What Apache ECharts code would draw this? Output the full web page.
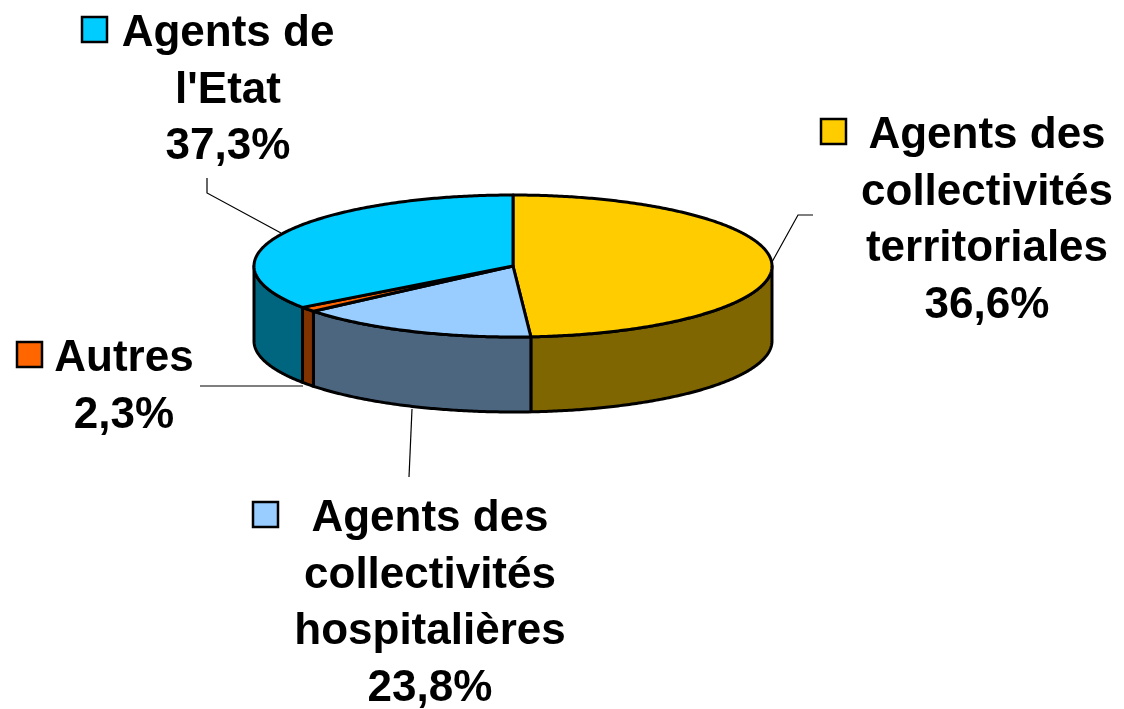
<!DOCTYPE html>
<html>
<head>
<meta charset="utf-8">
<script src="https://cdn.jsdelivr.net/npm/echarts@6/dist/echarts.min.js"></script>
<style>
html, body { margin: 0; padding: 0; background: #fff; }
#chart { width: 1124px; height: 709px; }
</style>
</head>
<body>
<div id="chart"></div>
<script>
// catégories, dans l'ordre horaire depuis midi
const categories = ['Agents des collectivités territoriales', 'Agents des collectivités hospitalières', 'Autres', "Agents de l'Etat"]
const labelLines = [
  ['Agents des', 'collectivités', 'territoriales'],
  ['Agents des', 'collectivités', 'hospitalières'],
  ['Autres'],
  ['Agents de', "l'Etat"]
]
const percents = [36.6, 23.8, 2.3, 37.3] // valeurs affichées
const sliceShare = [48.9, 15.1, 1.1, 34.9] // taille des secteurs telle que dessinée

// couleurs (dessus / flanc)
const topColors = ['#FFCC00', '#99CCFF', '#FF6600', '#00CCFF']
const sideColors = ['#7F6600', '#4D6680', '#803300', '#00667F']

// géométrie du camembert 3D
const pie = { cx: 513, cy: 266, rx: 259, ry: 71, depth: 75 }

// position des étiquettes : centre du texte, ligne de base de la 1re ligne, carré de légende
const labelPos = [
  { x: 987, base: 150, sq: 821 },
  { x: 430, base: 533, sq: 253 },
  { x: 124, base: 373, sq: 17 },
  { x: 228, base: 48, sq: 82 }
]
// traits de rappel
const leaders = [
  [[813, 215], [798, 215], [772, 262]],
  [[409, 477], [412, 409]],
  [[200, 386], [303, 386]],
  [[207, 178], [207, 193], [281, 233]]
]

const total = sliceShare.reduce((a, b) => a + b, 0)
const sliceData = []
let acc = 0
sliceShare.forEach((v, i) => {
  sliceData.push({ name: categories[i], value: [acc, acc + v, i] })
  acc += v
})

const pt = (a, dy) => [pie.cx + pie.rx * Math.sin(a), pie.cy - pie.ry * Math.cos(a) + dy]
const arc = (a0, a1, dy) => {
  const pts = []
  const n = Math.max(2, Math.ceil((a1 - a0) / 0.01))
  for (let k = 0; k <= n; k++) pts.push(pt(a0 + (a1 - a0) * k / n, dy))
  return pts
}
const toAngle = v => v / total * 2 * Math.PI

// flancs (seulement la moitié avant)
function renderSide (params, api) {
  const i = api.value(2)
  const s = Math.max(toAngle(api.value(0)), Math.PI / 2)
  const e = Math.min(toAngle(api.value(1)), Math.PI * 3 / 2)
  if (s >= e) return { type: 'group', children: [] }
  const pts = arc(s, e, 0).concat(arc(s, e, pie.depth).reverse())
  return {
    type: 'polygon',
    shape: { points: pts },
    style: { fill: sideColors[i], stroke: '#000', lineWidth: 3, lineJoin: 'round' }
  }
}

// dessus
function renderTop (params, api) {
  const i = api.value(2)
  const pts = [[pie.cx, pie.cy]].concat(arc(toAngle(api.value(0)), toAngle(api.value(1)), 0))
  return {
    type: 'polygon',
    shape: { points: pts },
    style: { fill: topColors[i], stroke: '#000', lineWidth: 3, lineJoin: 'round' }
  }
}

const font = 'bold 44px "Liberation Sans", Arial, sans-serif'
const graphics = []
labelPos.forEach((p, i) => {
  const lines = labelLines[i].concat([percents[i].toFixed(1).replace('.', ',') + '%'])
  graphics.push({
    type: 'text',
    silent: true,
    style: {
      text: lines.join('\n'),
      x: p.x,
      y: p.base - 42,
      align: 'center',
      verticalAlign: 'top',
      textAlign: 'center',
      textVerticalAlign: 'top',
      font: font,
      lineHeight: 56.5,
      fill: '#000'
    }
  })
  graphics.push({
    type: 'rect',
    silent: true,
    shape: { x: p.sq, y: p.base - 31, width: 25, height: 25 },
    style: { fill: topColors[i], stroke: '#000', lineWidth: 2.5 }
  })
})
leaders.forEach(l => {
  graphics.push({
    type: 'polyline',
    silent: true,
    shape: { points: l },
    style: { stroke: '#000', lineWidth: 1.2, fill: null }
  })
})

const myChart = echarts.init(document.getElementById('chart'))
myChart.setOption({
  animation: false,
  backgroundColor: '#fff',
  graphic: graphics,
  series: [
    { type: 'custom', coordinateSystem: 'none', renderItem: renderSide, data: sliceData, z: 1, silent: true },
    { type: 'custom', coordinateSystem: 'none', renderItem: renderTop, data: sliceData, z: 2, silent: true }
  ]
})
</script>
</body>
</html>
